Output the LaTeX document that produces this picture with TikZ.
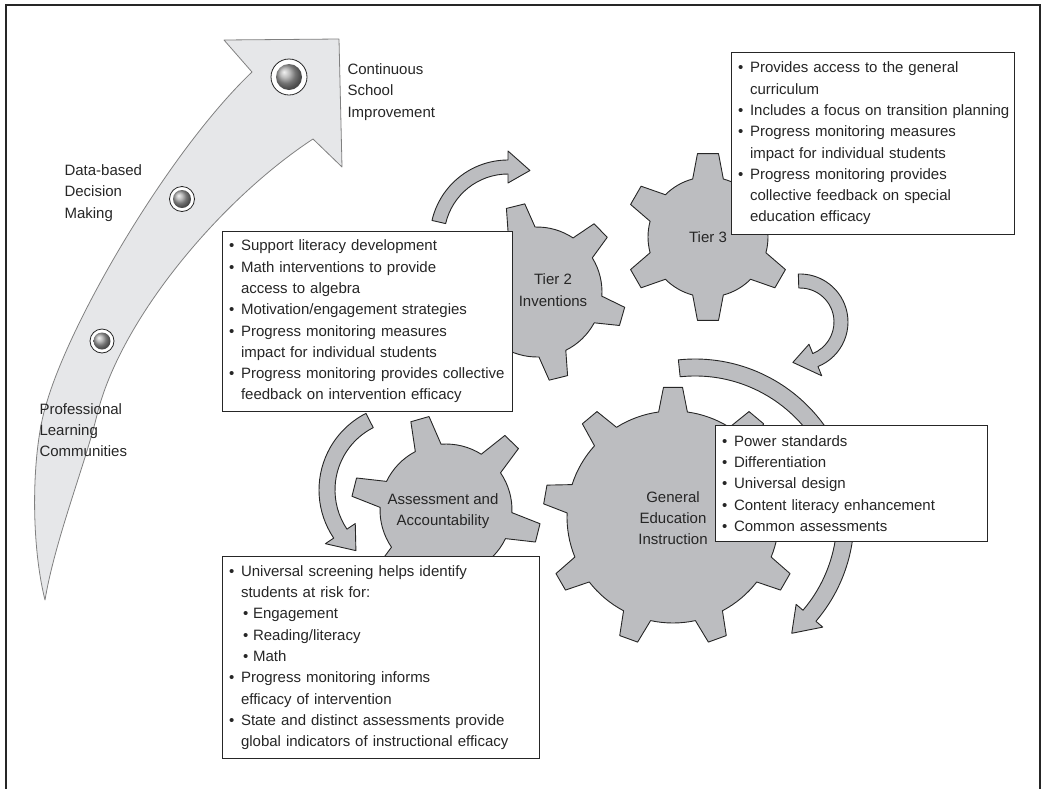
\documentclass[tikz,border=0pt]{standalone}
\usepackage{fontspec}
\setmainfont{Liberation Sans}
\usetikzlibrary{shadings}

\definecolor{gearfill}{HTML}{BCBDC0}
\definecolor{arrowfill}{HTML}{E6E7E9}
\definecolor{inkgray}{HTML}{262626}
\setlength{\parindent}{0pt}

\newcommand\boxfont{\fontsize{15}{21.3}\selectfont}
\newcommand\bul[1]{\mbox{\makebox[12pt][l]{\textbullet}#1}}
\newcommand\cnt[1]{\mbox{\hspace*{12pt}#1}}
\newcommand\bsub[1]{\mbox{\hspace*{14pt}\makebox[10pt][l]{\textbullet}#1}}

\tikzset{
  gearpart/.style={fill=gearfill, draw=inkgray, line width=0.9pt, line join=round},
  bigarrow/.style={fill=arrowfill, draw=gray, line width=0.8pt, line join=round},
  infobox/.style={draw=inkgray, fill=white, line width=1.1pt, anchor=north west,
    align=left, inner xsep=6.5pt, inner ysep=0pt, text=inkgray, font=\boxfont},
  gearlabel/.style={align=center, text=inkgray, font=\boxfont},
  sidelabel/.style={align=left, anchor=west, text=inkgray, font=\boxfont},
  knob/.style={fill=white, draw=inkgray, line width=0.8pt},
}

% x, y, teeth, first tooth angle, body radius, tip radius, tip half angle, base half angle
\newcommand\gear[8]{%
  \begin{scope}[shift={(#1,#2)}]
    \pgfmathsetmacro\gstep{360/#3}
    \pgfmathtruncatemacro\glast{#3-1}
    \draw[gearpart] ({#4-#8}:#5)
      \foreach \k in {0,...,\glast}{
        -- ({#4+\k*\gstep-#7}:#6) -- ({#4+\k*\gstep+#7}:#6) -- ({#4+\k*\gstep+#8}:#5)
        arc[start angle={#4+\k*\gstep+#8}, end angle={#4+(\k+1)*\gstep-#8}, radius=#5]
      } -- cycle;
  \end{scope}}

% x, y, inner radius, outer radius, from angle, to angle, tip offset, barb
\newcommand\turnarrow[8]{%
  \begin{scope}[shift={(#1,#2)}]
    \draw[gearpart] ({#5}:#3) arc[start angle=#5, end angle=#6, radius=#3]
      -- ({#6}:{#3-#8}) -- ({#6+#7}:{(#3+#4)/2}) -- ({#6}:{#4+#8}) -- ({#6}:#4)
      arc[start angle=#6, end angle=#5, radius=#4] -- cycle;
  \end{scope}}

\begin{document}
\begin{tikzpicture}[x=1pt,y=-1pt]
\useasboundingbox (0,0) rectangle (1042,788);
\draw[inkgray, line width=1.4pt] (6,800) -- (6,5) -- (1040,5) -- (1040,800);

% big arrow
\draw[bigarrow] (45,600) .. controls (30,540) and (32,450) .. (46,405)
  .. controls (70,320) and (170,150) .. (252,72)
  -- (224,40) -- (339,39) -- (342,167) -- (313,139)
  .. controls (220,200) and (120,320) .. (97,415)
  .. controls (85,465) and (55,540) .. (45,600) -- cycle;
\filldraw[knob] (289,77) circle[radius=18];
\shade[ball color=gray!70] (289,77) circle[radius=13];
\filldraw[knob] (182,199) circle[radius=12.5];
\shade[ball color=gray!70] (182,199) circle[radius=9];
\filldraw[knob] (102,341) circle[radius=12];
\shade[ball color=gray!70] (102,341) circle[radius=8.5];

\node[sidelabel] (csi) at (344,92) {Continuous\\School\\Improvement};
\node[sidelabel] (dbdm) at (61,193) {Data-based\\Decision\\Making};
\node[sidelabel] (plc) at (36,430) {Professional\\Learning\\Communities};

% gears
\gear{537}{292}{6}{-104}{65}{89}{6.1}{12.3}
\gear{708}{237}{6}{-90}{60}{84}{7.2}{14.8}
\gear{446}{510}{6}{-106}{66}{95}{5.7}{11.7}
\gear{673}{517}{9}{-90}{106}{130}{4.2}{7.8}

% turning arrows
\turnarrow{508}{238}{64}{78}{-167}{-90}{18}{9}
\turnarrow{800}{322}{34}{48}{-92}{68}{32}{10}
\turnarrow{695}{518}{142}{159}{-96}{40.5}{9.5}{9}
\turnarrow{405}{490}{70}{86}{243}{146}{-17}{10}

% boxes
\node[infobox, text width=277pt, minimum height=180pt] (tiertwobox) at (222,231) {%
  \bul{Support literacy development}\\
  \bul{Math interventions to provide}\\
  \cnt{access to algebra}\\
  \bul{Motivation/engagement strategies}\\
  \bul{Progress monitoring measures}\\
  \cnt{impact for individual students}\\
  \bul{Progress monitoring provides collective}\\
  \cnt{feedback on intervention efficacy}};
\node[infobox, text width=270pt, minimum height=182pt] (tierthreebox) at (731,52) {%
  \bul{Provides access to the general}\\
  \cnt{curriculum}\\
  \bul{Includes a focus on transition planning}\\
  \bul{Progress monitoring measures}\\
  \cnt{impact for individual students}\\
  \bul{Progress monitoring provides}\\
  \cnt{collective feedback on special}\\
  \cnt{education efficacy}};
\node[infobox, text width=259pt, minimum height=116pt] (genedbox) at (715,425) {%
  \bul{Power standards}\\
  \bul{Differentiation}\\
  \bul{Universal design}\\
  \bul{Content literacy enhancement}\\
  \bul{Common assessments}};
\node[infobox, text width=304pt, minimum height=202pt] (assessbox) at (222,556) {%
  \bul{Universal screening helps identify}\\
  \cnt{students at risk for:}\\
  \bsub{Engagement}\\
  \bsub{Reading/literacy}\\
  \bsub{Math}\\
  \bul{Progress monitoring informs}\\
  \cnt{efficacy of intervention}\\
  \bul{State and distinct assessments provide}\\
  \cnt{global indicators of instructional efficacy}};

\node[gearlabel] (tiertwo) at (553,290) {Tier 2\\Inventions};
\node[gearlabel] (tierthree) at (708,237) {Tier 3};
\node[gearlabel] (assess) at (443,511) {Assessment and\\Accountability};
\node[gearlabel] (gened) at (673,518) {General\\Education\\Instruction};
\end{tikzpicture}
\end{document}
